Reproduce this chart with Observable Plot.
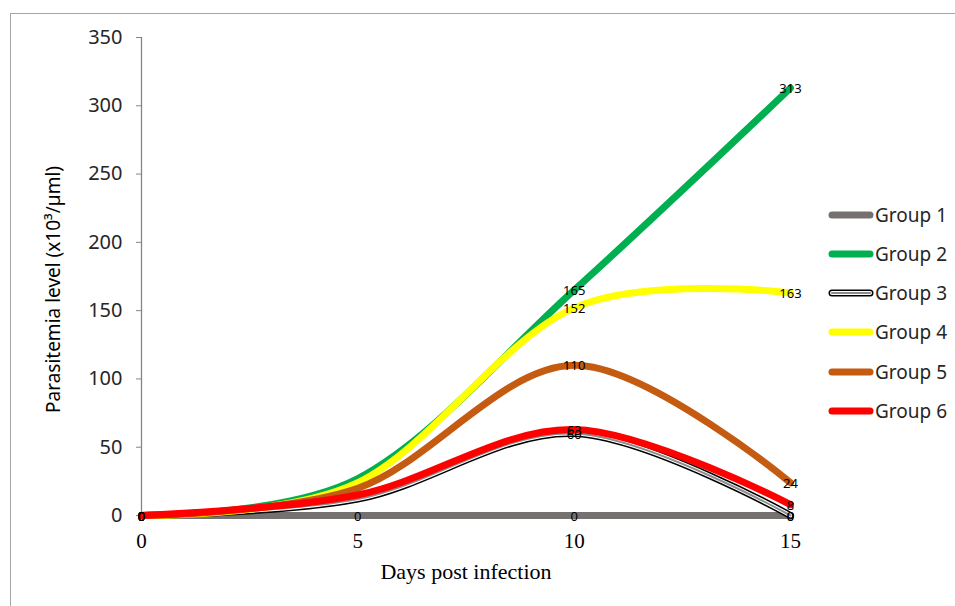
<!DOCTYPE html>
<html>
<head>
<meta charset="utf-8">
<script src="https://cdn.jsdelivr.net/npm/d3@7"></script>
<script src="https://cdn.jsdelivr.net/npm/@observablehq/plot@0.6"></script>
<style>
  html, body { margin: 0; padding: 0; background: #fff; }
  #wrap { position: relative; width: 955px; height: 606px; overflow: hidden; }
  #border { position: absolute; left: 10px; top: 13px; width: 960px; height: 610px;
            border-left: 1px solid #a6a6a6; border-top: 1px solid #a6a6a6; }
  #legend { position: absolute; left: 828px; top: 0; font-family: "Noto Sans", sans-serif;
            font-size: 19px; color: #262626; }
  .item { position: absolute; left: 0; white-space: nowrap; display: flex; align-items: center; height: 30px; }
  .item svg { display: block; }
  .item span { margin-left: 1px; }
</style>
</head>
<body>
<div id="wrap"><div id="border"></div><div id="chart"></div><div id="legend"></div></div>
<script>
const days = [0, 5, 10, 15];
const groups = ["Group 1", "Group 2", "Group 3", "Group 4", "Group 5", "Group 6"];
const group1 = [0, 0, 0, 0];
const group2 = [0, 27, 165, 313];
const group3 = [0, 12, 60, 0];
const group4 = [0, 24, 152, 163];
const group5 = [0, 20, 110, 24];
const group6 = [0, 15, 63, 8];
const colors = ["#767171", "#00b050", "#000000", "#ffff00", "#c55a11", "#ff0000"];
const yTicks = [0, 50, 100, 150, 200, 250, 300, 350];
const xTicks = [0, 5, 10, 15];
const yTitle = "Parasitemia level (x10³/µml)";
const xTitle = "Days post infection";

const series = [group1, group2, group3, group4, group5, group6];
const data = [];
series.forEach((vals, gi) => vals.forEach((v, di) => data.push({group: groups[gi], day: days[di], value: v})));
// Data labels: Excel shows all except day 5 for groups 2-6
const labels = data.filter(d => !(d.day === 5 && d.group !== "Group 1"));

const lineMarks = [];
groups.forEach((g, gi) => {
  const rows = data.filter(d => d.group === g);
  if (g === "Group 3") {
    lineMarks.push(Plot.line(rows, {x: "day", y: "value", curve: "cardinal", stroke: "#000", strokeWidth: 7}));
    lineMarks.push(Plot.line(rows, {x: "day", y: "value", curve: "cardinal", stroke: "#fff", strokeWidth: 4}));
    lineMarks.push(Plot.line(rows, {x: "day", y: "value", curve: "cardinal", stroke: "#8c8c8c", strokeWidth: 2}));
  } else {
    lineMarks.push(Plot.line(rows, {x: "day", y: "value", curve: "cardinal", stroke: colors[gi], strokeWidth: 7}));
  }
});

const chart = Plot.plot({
  width: 955,
  height: 606,
  marginLeft: 141,
  marginRight: 165,
  marginTop: 37,
  marginBottom: 91,
  style: {background: "transparent"},
  x: {domain: [0, 15]},
  y: {domain: [0, 350]},
  marks: [
    Plot.ruleX([0], {stroke: "#868686", strokeWidth: 1.3}),
    Plot.ruleY([0], {stroke: "#868686", strokeWidth: 1.3}),
    Plot.axisY({ticks: yTicks, tickSize: 5, tickPadding: 14, stroke: "#868686", label: null,
                fontFamily: "Noto Sans", fontSize: 20, fill: "#262626"}),
    Plot.axisX({ticks: xTicks, tickSize: 5, tickPadding: 13, stroke: "#868686", label: null,
                fontFamily: "Liberation Serif", fontSize: 21, fill: "#000"}),
    Plot.text([yTitle], {frameAnchor: "left", textAnchor: "middle", rotate: -90, dx: -88, dy: 13,
                fontFamily: "Noto Sans", fontSize: 19, fill: "#000"}),
    Plot.text([xTitle], {frameAnchor: "bottom", dy: 63,
                fontFamily: "Liberation Serif", fontSize: 22, fill: "#000"}),
    ...lineMarks,
    Plot.text(labels, {x: "day", y: "value", text: d => String(d.value), dy: 1,
                fontFamily: "Noto Sans", fontSize: 13, fill: "#000"})
  ]
});
document.getElementById("chart").appendChild(chart);

// Legend
const legend = document.getElementById("legend");
const rowY = [215, 254, 293, 332, 372, 411];
groups.forEach((g, gi) => {
  const item = document.createElement("div");
  item.className = "item";
  item.style.top = (rowY[gi] - 15) + "px";
  const ns = "http://www.w3.org/2000/svg";
  const svg = document.createElementNS(ns, "svg");
  svg.setAttribute("width", 46); svg.setAttribute("height", 12);
  const mk = (stroke, w) => {
    const l = document.createElementNS(ns, "line");
    l.setAttribute("x1", 4); l.setAttribute("x2", 42); l.setAttribute("y1", 6); l.setAttribute("y2", 6);
    l.setAttribute("stroke", stroke); l.setAttribute("stroke-width", w); l.setAttribute("stroke-linecap", "round");
    svg.appendChild(l);
  };
  if (g === "Group 3") { mk("#000", 7); mk("#fff", 4); mk("#8c8c8c", 2); }
  else mk(colors[gi], 7);
  const span = document.createElement("span");
  span.textContent = g;
  item.appendChild(svg); item.appendChild(span);
  legend.appendChild(item);
});
</script>
</body>
</html>
